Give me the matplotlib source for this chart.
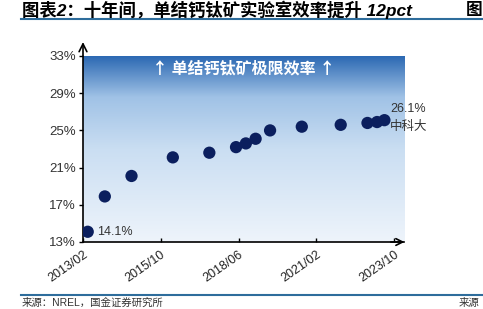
import numpy as np
import matplotlib.pyplot as plt
import matplotlib.dates as mdates
from matplotlib.colors import LinearSegmentedColormap
import datetime as dt

plt.rcParams['font.family'] = ['Liberation Sans', 'Noto Sans CJK SC', 'DejaVu Sans']

# 数据：NREL 单结钙钛矿认证效率记录
dates = ['2013-04', '2013-11', '2014-10', '2016-03', '2017-06', '2018-05', '2018-09',
         '2019-01', '2019-07', '2020-08', '2021-12', '2022-11', '2023-03', '2023-06']
eff = [14.1, 17.9, 20.1, 22.1, 22.6, 23.2, 23.6, 24.1, 25.0, 25.4, 25.6, 25.8, 25.9, 26.1]
tick_dates = ['2013-02', '2015-10', '2018-06', '2021-02', '2023-10']
tick_labels = ['2013/02', '2015/10', '2018/06', '2021/02', '2023/10']
y_ticks = [13, 17, 21, 25, 29, 33]

def d(s):
    y, m = s.split('-')
    return mdates.date2num(dt.date(int(y), int(m), 1))

x = [d(s) for s in dates]

fig = plt.figure(figsize=(4.83, 3.09), dpi=100)
ax = fig.add_axes([83/483, 1-242/309, (404-83)/483, (242-56)/309])

x0, x1 = d('2013-02'), d('2024-02')
ax.set_xlim(x0, x1)
ax.set_ylim(13, 33)

# 渐变背景
cmap = LinearSegmentedColormap.from_list('bg', [(0, '#2c69b3'), (0.22, '#a0c2e6'),
                                                (0.5, '#cadef2'), (1, '#eef4fb')])
grad = np.linspace(0, 1, 256).reshape(-1, 1)
ax.imshow(grad, extent=[x0, x1, 13, 33], aspect='auto', cmap=cmap, origin='upper', zorder=0)

ax.scatter(x, eff, s=78, color='#0b1f5e', zorder=3, edgecolors='none')

ax.set_yticks(y_ticks)
ax.set_yticklabels([f'{v}%' for v in y_ticks], fontsize=9.5, color='#333333')
ax.set_xticks([d(s) for s in tick_dates])
ax.set_xticklabels(tick_labels, rotation=35, ha='right', rotation_mode='anchor', fontsize=9,
                   color='#222222')
ax.tick_params(axis='x', direction='in', length=3, width=1, pad=5)
ax.tick_params(axis='y', direction='out', length=3, width=1, pad=2)
for s in ['top', 'right']:
    ax.spines[s].set_visible(False)
for s in ['left', 'bottom']:
    ax.spines[s].set_linewidth(1.2)

# 轴端箭头
ax.annotate('', xy=(0, 1.09), xytext=(0, 0.99), xycoords='axes fraction',
            arrowprops=dict(arrowstyle='->', lw=1.2, color='black', mutation_scale=14),
            annotation_clip=False)
ax.annotate('', xy=(1.01, 0), xytext=(0.95, 0), xycoords='axes fraction',
            arrowprops=dict(arrowstyle='->', lw=1.2, color='black', mutation_scale=12),
            annotation_clip=False)

ax.text(0.5, 0.935, '↑ 单结钙钛矿极限效率 ↑', transform=ax.transAxes, ha='center', va='center',
        fontsize=11.5, color='white', fontweight='bold',
        family=['Noto Sans CJK SC', 'DejaVu Sans'])

ax.annotate(f'{eff[0]}%', (x[0], eff[0]), xytext=(7, 0), textcoords='offset points',
            va='center', ha='left', fontsize=9, color='#333333')
ax.annotate(f'{eff[-1]}%', (x[-1], eff[-1]), xytext=(4, 8), textcoords='offset points',
            va='center', ha='left', fontsize=9, color='#333333')
ax.annotate('中科大', (x[-1], eff[-1]), xytext=(4, -5), textcoords='offset points',
            va='center', ha='left', fontsize=9, color='#333333')

# 标题与页脚
fig.text(22/483, 1-10/309, '图表2：十年间，单结钙钛矿实验室效率提升 12pct', fontsize=12.5,
         fontweight='bold', style='italic', va='center', ha='left')
fig.text(466/483, 1-10/309, '图', fontsize=12, fontweight='bold', va='center', ha='left')
fig.add_artist(plt.Line2D([21/483, 1], [1-19/309, 1-19/309], color='#2e6d9c', lw=1.5))
fig.add_artist(plt.Line2D([21/483, 1], [1-295/309, 1-295/309], color='#2e6d9c', lw=1.5))
fig.text(22/483, 1-303/309, '来源：NREL，国金证券研究所', fontsize=7.5, va='center', ha='left',
         color='#333333')
fig.text(459/483, 1-303/309, '来源', fontsize=7.5, va='center', ha='left', color='#333333')

fig.savefig('out.png', dpi=100)
